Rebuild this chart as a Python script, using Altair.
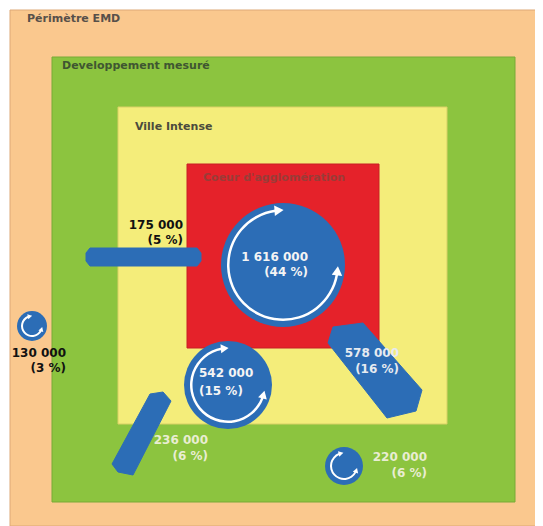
import math
import altair as alt
import pandas as pd

# ---------------- data ----------------
# nested zones
zone_names = ["Périmètre EMD", "Developpement mesuré", "Ville Intense", "Coeur d'agglomération"]
zone_fill = ["#FAC88E", "#8CC43F", "#F4ED7A", "#E5222A"]
zone_stroke = ["#DDA877", "#79AA37", "#D9D066", "#C81E25"]
zone_x1 = [10, 52, 118, 187]
zone_x2 = [543, 515, 447, 379]
zone_y1 = [10, 57, 107, 164]
zone_y2 = [526, 502, 424, 348]
zone_label_x = [27, 62, 135, 203]
zone_label_y = [19, 66, 127, 178]
zone_label_color = ["#57504A", "#3F5631", "#4B4A3D", "#9A3C38"]

# internal movements (circles with circular arrows)
circ_cx = [283, 228, 344, 32]
circ_cy = [265, 385, 466, 326]
circ_r = [62, 44, 19, 15]
arc_r = [56, 38, 14, 11]
arc_w = [2.5, 2.5, 2.0, 2.0]
arc_start = [100, 110, 118, 118]   # degrees, clockwise from 12 o'clock
arc_end = [352, 350, 338, 338]
head_size = [110, 80, 32, 26]

# exchanges between zones (blue arrows)
flow_names = ["175 000", "578 000", "236 000"]
flow_xs = [[86, 90, 197, 201, 201, 197, 90, 86],
           [333, 363, 422, 416, 387, 328],
           [112, 150, 163, 171, 133, 118]]
flow_ys = [[253, 248, 248, 253, 261, 266, 266, 261],
           [327, 323, 390, 411, 418, 343],
           [464, 394, 392, 401, 475, 472]]

# labels
label_value = ["1 616 000", "542 000", "220 000", "130 000", "175 000", "578 000", "236 000"]
label_pct = ["(44 %)", "(15 %)", "(6 %)", "(3 %)", "(5 %)", "(16 %)", "(6 %)"]
label_x = [308, 199, 427, 66, 183, 399, 208]
label_align = ["right", "left", "right", "right", "right", "right", "right"]
label_y1 = [257, 373, 457, 353, 225, 353, 440]
label_y2 = [272, 391, 473, 368, 240, 369, 456]
label_color = ["#F4F4F4", "#F4F4F4", "#E9EDD2", "#111111", "#111111", "#E6EAF0", "#E9EDD2"]

BLUE = "#2C6DB6"
FONT = "DejaVu Sans"

# ---------------- tables ----------------
zones = pd.DataFrame(dict(name=zone_names, fill=zone_fill, stroke=zone_stroke,
                          x1=zone_x1, x2=zone_x2, y1=zone_y1, y2=zone_y2,
                          lx=zone_label_x, ly=zone_label_y, lc=zone_label_color))

circles = pd.DataFrame(dict(cx=circ_cx, cy=circ_cy, size=[(2 * r) ** 2 for r in circ_r]))

arcs = pd.DataFrame(dict(cx=circ_cx, cy=circ_cy,
                         r1=arc_r, r2=[r - w for r, w in zip(arc_r, arc_w)],
                         t1=[math.radians(a) for a in arc_start],
                         t2=[math.radians(a) for a in arc_end]))

heads = []
for cx, cy, r, w, a1, a2, s in zip(circ_cx, circ_cy, arc_r, arc_w, arc_start, arc_end, head_size):
    rm = r - w / 2
    d = math.degrees(math.sqrt(s) * 0.35 / rm)
    for a, direction in ((a2 + d, a2 + 90 + d), (a1 - d, a1 - 90 - d)):
        t = math.radians(a)
        heads.append(dict(x=cx + rm * math.sin(t), y=cy - rm * math.cos(t),
                          angle=direction % 360, size=s))
heads = pd.DataFrame(heads)

rows = []
for name, xs, ys in zip(flow_names, flow_xs, flow_ys):
    pts = list(zip(xs, ys)) + [(xs[0], ys[0])]
    for i, (x, y) in enumerate(pts):
        rows.append(dict(flow=name, i=i, x=x, y=y))
flows = pd.DataFrame(rows)

labels = pd.DataFrame(dict(x=label_x + label_x, y=label_y1 + label_y2,
                           text=label_value + label_pct,
                           align=label_align + label_align,
                           color=label_color + label_color))

# ---------------- chart ----------------
W, H = 527, 518
xs = alt.Scale(domain=[8, 8 + W], nice=False, zero=False)
ys = alt.Scale(domain=[8, 8 + H], nice=False, zero=False, reverse=True)
X = lambda f: alt.X(f, type="quantitative", scale=xs, axis=None)
Y = lambda f: alt.Y(f, type="quantitative", scale=ys, axis=None)

rects = alt.Chart(zones).mark_rect(strokeWidth=1).encode(
    x=X("x1"), x2="x2", y=Y("y1"), y2="y2",
    fill=alt.Fill("fill:N", scale=None), stroke=alt.Stroke("stroke:N", scale=None))

zone_text = alt.Chart(zones).mark_text(font=FONT, fontSize=11, fontWeight="bold",
                                       align="left", baseline="middle").encode(
    x=X("lx"), y=Y("ly"), text="name:N", color=alt.Color("lc:N", scale=None))

poly = alt.Chart(flows).mark_line(fill=BLUE, stroke=BLUE, strokeWidth=1,
                                  interpolate="linear-closed").encode(
    x=X("x"), y=Y("y"), order="i:Q", detail="flow:N")

discs = alt.Chart(circles).mark_circle(color=BLUE, opacity=1).encode(
    x=X("cx"), y=Y("cy"), size=alt.Size("size:Q", scale=None))

rings = alt.Chart(arcs).mark_arc(color="white").encode(
    x=X("cx"), y=Y("cy"),
    theta=alt.Theta("t1:Q", scale=None), theta2="t2",
    radius=alt.Radius("r1:Q", scale=None), radius2="r2")

tips = alt.Chart(heads).mark_point(shape="triangle-up", filled=True, color="white",
                                   opacity=1).encode(
    x=X("x"), y=Y("y"), angle=alt.Angle("angle:Q", scale=None),
    size=alt.Size("size:Q", scale=None))

texts_r = alt.Chart(labels).transform_filter(alt.datum.align == "right").mark_text(
    font=FONT, fontSize=12, fontWeight="bold", baseline="middle", align="right").encode(
    x=X("x"), y=Y("y"), text="text:N", color=alt.Color("color:N", scale=None))

texts_l = alt.Chart(labels).transform_filter(alt.datum.align == "left").mark_text(
    font=FONT, fontSize=12, fontWeight="bold", baseline="middle", align="left").encode(
    x=X("x"), y=Y("y"), text="text:N", color=alt.Color("color:N", scale=None))

chart = alt.layer(rects, zone_text, poly, discs, rings, tips, texts_r, texts_l).properties(
    width=W, height=H, padding=0, autosize=alt.AutoSizeParams(type="none")
).configure_view(strokeWidth=0)

chart.save("out.html", embed_options={"renderer": "svg", "actions": False})
